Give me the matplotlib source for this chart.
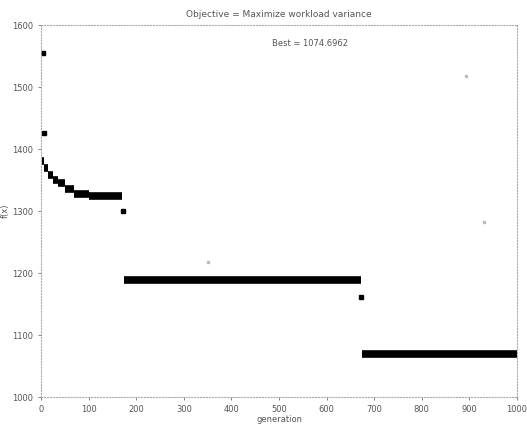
import matplotlib
matplotlib.use("Agg")
import matplotlib.pyplot as plt

# flat runs of the best value: (first generation, last generation, f(x))
seg_start = [2, 6, 15, 26, 35, 50, 70, 100, 175, 674]
seg_end = [6, 15, 26, 35, 50, 70, 100, 170, 672, 1000]
seg_value = [1380, 1369, 1358, 1350, 1346, 1336, 1327, 1324, 1189, 1069]

# single points
pt_gen = [5, 7, 172, 672]
pt_value = [1555, 1426, 1300, 1161]

# faint stray points
faint_gen = [351, 893, 930]
faint_value = [1218, 1518, 1282]

xticks = [0, 100, 200, 300, 400, 500, 600, 700, 800, 900, 1000]
yticks = [1000, 1100, 1200, 1300, 1400, 1500, 1600]

fig = plt.figure(figsize=(5.27, 4.26), dpi=100)
ax = fig.add_axes([0.078, 0.068, 0.903, 0.873])

for s, e, v in zip(seg_start, seg_end, seg_value):
    ax.plot([s, e], [v, v], color="black", linewidth=5.5, solid_capstyle="butt")
ax.plot(pt_gen, pt_value, "s", color="black", markersize=3.5)
ax.plot(faint_gen, faint_value, "s", color="#bbbbbb", markersize=1.5)

ax.set_xlim(0, 1000)
ax.set_ylim(1000, 1600)
ax.set_xticks(xticks)
ax.set_yticks(yticks)
ax.tick_params(labelsize=6, colors="#555555", length=2, width=0.5)

for sp in ax.spines.values():
    sp.set_color("#aaaaaa")
    sp.set_linestyle(":")
    sp.set_linewidth(0.8)

ax.set_xlabel("generation", fontsize=6, color="#555555", labelpad=1)
ax.set_ylabel("f(x)", fontsize=6, color="#555555", labelpad=2)
ax.set_title("Objective = Maximize workload variance", fontsize=6.5, color="#555555", pad=6)
ax.text(0.565, 0.95, "Best = 1074.6962", transform=ax.transAxes, fontsize=6,
        color="#555555", ha="center", va="center")

fig.savefig("out.png", dpi=100)
